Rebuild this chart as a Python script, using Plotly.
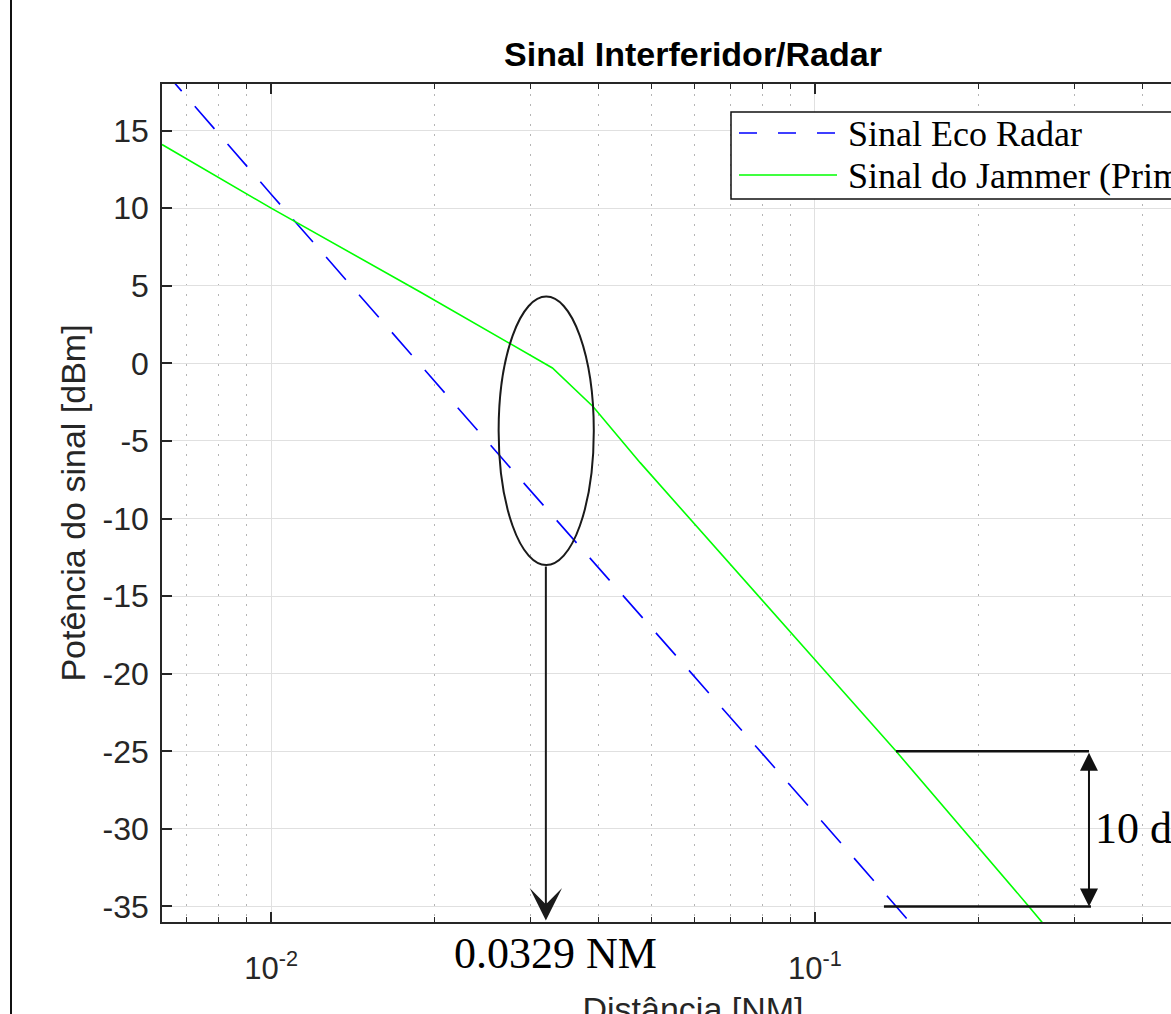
import numpy as np
import plotly.graph_objects as go

# ---------------- data ----------------
distance_radar_nm = [0.0063, 0.01, 0.0267, 0.0359, 0.1, 0.16]
power_radar_dbm = [19.0, 10.9, -6.2, -11.3, -29.0, -37.2]

distance_jammer_nm = [0.0063, 0.01, 0.0188, 0.0329, 0.0391, 0.0477, 0.1, 0.141, 0.246, 0.27]
power_jammer_dbm = [14.1, 10.0, 4.6, -0.3, -2.8, -6.4, -19.1, -25.0, -34.9, -36.6]

series_names = ["Sinal Eco Radar", "Sinal do Jammer (Primário)"]
series_colors = ["#0000FF", "#00FF00"]

x_tick_vals = [0.01, 0.1]
x_tick_text = ["10<sup>-2</sup>", "10<sup>-1</sup>"]
x_minor_vals = [0.007, 0.008, 0.009,
                0.02, 0.03, 0.04, 0.05, 0.06, 0.07, 0.08, 0.09,
                0.2, 0.3, 0.4, 0.5]
y_tick_vals = [-35, -30, -25, -20, -15, -10, -5, 0, 5, 10, 15]
y_tick_text = ["-35", "-30", "-25", "-20", "-15", "-10", "-5", "0", "5", "10", "15"]

crossover_label = "0.0329 NM"
margin_label = "10 dB"

# ---------------- figure ----------------
W, H = 1260, 1044
ML, MR, MT, MB = 162, 36, 84, 122
PW, PH = W - ML - MR, H - MT - MB

def px(xp):
    return (xp - ML) / PW

def py(yp):
    return (H - MB - yp) / PH

sans = "Liberation Sans, Arial, sans-serif"
serif = "Liberation Serif, Times New Roman, serif"
axc = "#262626"

fig = go.Figure()
fig.add_trace(go.Scatter(x=distance_radar_nm, y=power_radar_dbm, mode="lines",
                         name=series_names[0], showlegend=False,
                         line=dict(color=series_colors[0], width=1.6, dash="30px,20px")))
fig.add_trace(go.Scatter(x=distance_jammer_nm, y=power_jammer_dbm, mode="lines",
                         name=series_names[1], showlegend=False,
                         line=dict(color=series_colors[1], width=1.6)))

fig.update_layout(
    width=W, height=H, autosize=False,
    margin=dict(l=ML, r=MR, t=MT, b=MB, pad=0, autoexpand=False),
    paper_bgcolor="white", plot_bgcolor="white",
    title=dict(text="<b>Sinal Interferidor/Radar</b>", x=px(693), xref="paper", xanchor="center",
               y=(H - 54) / H, yref="container", yanchor="middle",
               font=dict(family=sans, size=34, color="black")),
    xaxis=dict(type="log", range=[np.log10(0.0063), np.log10(0.565)],
               tickvals=x_tick_vals, ticktext=x_tick_text, automargin=False,
               ticks="inside", ticklen=10, tickwidth=1.5, tickcolor=axc,
               showline=True, linecolor=axc, linewidth=1.5, mirror="ticks",
               showgrid=True, gridcolor="#e0e0e0", gridwidth=1, zeroline=False,
               tickfont=dict(family=sans, size=31, color=axc),
               ticklabelstandoff=18,
               title=dict(text="Distância [NM]", font=dict(family=sans, size=34, color=axc), standoff=12),
               minor=dict(tickvals=x_minor_vals, ticks="inside", ticklen=5, tickwidth=1.2,
                          tickcolor=axc, showgrid=True, gridcolor="#b5b5b5",
                          griddash="2px,8px", gridwidth=1)),
    yaxis=dict(range=[-36, 18], tickvals=y_tick_vals, ticktext=y_tick_text, automargin=False,
               ticks="inside", ticklen=10, tickwidth=1.5, tickcolor=axc,
               showline=True, linecolor=axc, linewidth=1.5, mirror="ticks",
               showgrid=True, gridcolor="#e0e0e0", gridwidth=1, zeroline=False,
               tickfont=dict(family=sans, size=32, color=axc),
               ticklabelstandoff=5,
               title=dict(text="Potência do sinal [dBm]", font=dict(family=sans, size=34, color=axc), standoff=7)),
)

shapes = []
# outer figure frame line on the left
shapes.append(dict(type="line", xref="paper", yref="paper", x0=px(11), x1=px(11),
                   y0=py(H + 20), y1=py(-20), line=dict(color="#111111", width=2)))
# ellipse around the crossover region
shapes.append(dict(type="circle", xref="x", yref="y", x0=0.0262, x1=0.0392, y0=-13.0, y1=4.3,
                   line=dict(color="#1a1a1a", width=2), fillcolor="rgba(0,0,0,0)"))
# 10 dB bracket lines
shapes.append(dict(type="line", xref="x", yref="y", x0=0.1409, x1=0.319, y0=-25, y1=-25,
                   line=dict(color="#111111", width=2.5)))
shapes.append(dict(type="line", xref="x", yref="y", x0=0.1339, x1=0.3217, y0=-35, y1=-35,
                   line=dict(color="#111111", width=2.5)))
# manual legend box
shapes.append(dict(type="rect", xref="paper", yref="paper", x0=px(731), x1=px(1256),
                   y0=py(199), y1=py(112), line=dict(color="#111111", width=1.5),
                   fillcolor="white", layer="above"))
shapes.append(dict(type="line", xref="paper", yref="paper", x0=px(739), x1=px(837),
                   y0=py(133), y1=py(133), line=dict(color=series_colors[0], width=1.6, dash="18px,21px")))
shapes.append(dict(type="line", xref="paper", yref="paper", x0=px(739), x1=px(837),
                   y0=py(175), y1=py(175), line=dict(color=series_colors[1], width=1.6)))
fig.update_layout(shapes=shapes)

annotations = []
# vertical arrow from ellipse to axis
annotations.append(dict(x=np.log10(0.032), y=-35.9, xref="x", yref="y",
                        ax=np.log10(0.032), ay=-13.0, axref="x", ayref="y",
                        text="", showarrow=True, arrowhead=3, arrowsize=2.7, arrowwidth=2,
                        arrowcolor="#1a1a1a"))
# double arrow for 10 dB
annotations.append(dict(x=np.log10(0.319), y=-35, xref="x", yref="y",
                        ax=np.log10(0.319), ay=-25, axref="x", ayref="y",
                        text="", showarrow=True, arrowside="end+start",
                        arrowhead=2, startarrowhead=2, arrowsize=1.8, startarrowsize=1.8,
                        arrowwidth=2, arrowcolor="#111111"))
annotations.append(dict(x=np.log10(0.3243), y=-30, xref="x", yref="y", xanchor="left",
                        yanchor="middle", showarrow=False, text=margin_label,
                        font=dict(family=serif, size=44, color="black")))
annotations.append(dict(x=np.log10(0.0334), y=py(953), xref="x", yref="paper", xanchor="center",
                        yanchor="middle", showarrow=False, text=crossover_label,
                        font=dict(family=serif, size=44, color="black")))
# legend texts
annotations.append(dict(x=px(846), y=py(134), xref="paper", yref="paper", xanchor="left",
                        yanchor="middle", showarrow=False, text=series_names[0],
                        font=dict(family=serif, size=36, color="black")))
annotations.append(dict(x=px(846), y=py(176), xref="paper", yref="paper", xanchor="left",
                        yanchor="middle", showarrow=False, text=series_names[1],
                        font=dict(family=serif, size=36, color="black")))
fig.update_layout(annotations=annotations)

fig.write_html("out.html", config={"displayModeBar": False},
               post_script="document.body.style.margin='0';document.body.style.overflow='hidden';")
